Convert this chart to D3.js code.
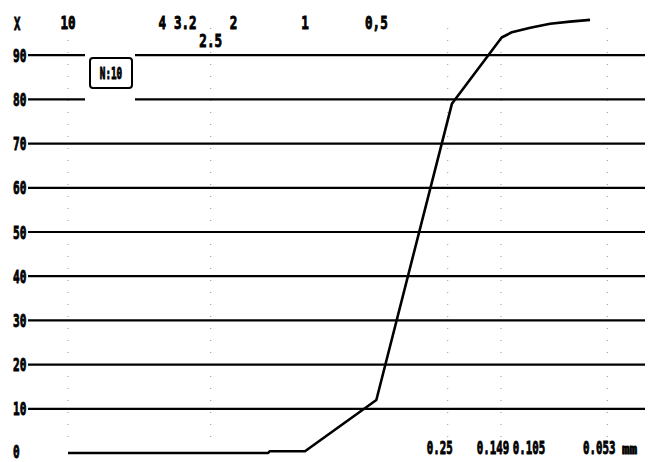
<!DOCTYPE html>
<html>
<head>
<meta charset="utf-8">
<script src="https://cdn.jsdelivr.net/npm/d3@7"></script>
<style>
body { margin: 0; background: #fff; }
text { font-family: "DejaVu Sans Mono", monospace; font-weight: bold; fill: #000; stroke: #000; stroke-width: 0.9; }
</style>
</head>
<body>
<div id="chart"></div>
<script>
// percent levels with a ruled line
var percentLevels = [10, 20, 30, 40, 50, 60, 70, 80, 90];
var percentLabels = ["10", "20", "30", "40", "50", "60", "70", "80", "90"];

// sieve sizes (mm) printed along the top and bottom
var topTicks = [10, 4, 3.2, 2.5, 2, 1, 0.5];
var topLabels = ["10", "4", "3.2", "2.5", "2", "1", "0,5"];
var bottomTicks = [0.25, 0.149, 0.105, 0.053];
var bottomLabels = ["0.25", "0.149", "0.105", "0.053"];

// faint dotted verticals
var sieveSizes = [10, 2.5, 0.25, 0.149, 0.053];

// grading curve
var curveSize    = [10, 1.43, 1.41, 1.0, 0.5, 0.24, 0.148, 0.134, 0.112, 0.0925, 0.0762, 0.0627];
var curvePercent = [0,  0,    0.4,  0.4, 12,  79,   94,    95.2,  96.2,  97.1,   97.6,   98];

var sampleLabel = "N:10";

var width = 660, height = 462;

var svg = d3.select("#chart").append("svg")
    .attr("width", width)
    .attr("height", height);

var x = d3.scaleLog().domain([10, 0.1]).range([68, 542]);
var y = d3.scaleLinear().domain([0, 100]).range([453, 11]);

// squeezed bold text, looks like the old printer font
function label(parent, tx, ty, str, size, sx, anchor) {
    parent.append("g")
        .attr("transform", "translate(" + tx + "," + ty + ")")
        .append("text")
        .attr("transform", "scale(" + sx + ",1)")
        .attr("text-anchor", anchor || "start")
        .style("font-size", size + "px")
        .text(str);
}

// dotted sieve lines
svg.append("g").selectAll("line")
    .data(sieveSizes)
    .enter().append("line")
    .attr("x1", function(d) { return x(d); })
    .attr("x2", function(d) { return x(d); })
    .attr("y1", 28)
    .attr("y2", 440)
    .attr("stroke", "#000")
    .attr("stroke-width", 1)
    .attr("stroke-dasharray", "1,11")
    .attr("opacity", 0.4);

// ruled lines
svg.append("g").selectAll("line")
    .data(percentLevels)
    .enter().append("line")
    .attr("x1", 28)
    .attr("x2", 645)
    .attr("y1", function(d) { return y(d); })
    .attr("y2", function(d) { return y(d); })
    .attr("stroke", "#000")
    .attr("stroke-width", 2.2);

// gap in the 80/90 lines round the sample box
svg.append("rect")
    .attr("x", 85).attr("y", y(92))
    .attr("width", 50).attr("height", y(78) - y(92))
    .attr("fill", "#fff");

svg.append("rect")
    .attr("x", 90).attr("y", 58)
    .attr("width", 42).attr("height", 30)
    .attr("rx", 3)
    .attr("fill", "none")
    .attr("stroke", "#000")
    .attr("stroke-width", 2);
label(svg, 111, 79, sampleLabel, 15, 0.62, "middle");

// percent labels
percentLevels.forEach(function(p, i) {
    label(svg, 13, y(p) + 6.5, percentLabels[i], 18, 0.62);
});
label(svg, 13, y(0) + 5, "0", 18, 0.62);
label(svg, 14, 30, "X", 17, 0.62);

// size labels on top
topTicks.forEach(function(s, i) {
    var ty = s === 2.5 ? 47 : 29;
    label(svg, x(s), ty, topLabels[i], 18, 0.7, "middle");
});

// size labels at the bottom
bottomTicks.forEach(function(s, i) {
    label(svg, x(s) - 8, 454, bottomLabels[i], 18, 0.6, "middle");
});
label(svg, 622, 454, "mm", 14, 0.9);

// curve
var pts = curveSize.map(function(s, i) { return [s, curvePercent[i]]; });
var line = d3.line()
    .x(function(d) { return x(d[0]); })
    .y(function(d) { return y(d[1]); });

svg.append("path")
    .datum(pts)
    .attr("d", line)
    .attr("fill", "none")
    .attr("stroke", "#000")
    .attr("stroke-width", 2.6)
    .attr("stroke-linejoin", "round");
</script>
</body>
</html>
